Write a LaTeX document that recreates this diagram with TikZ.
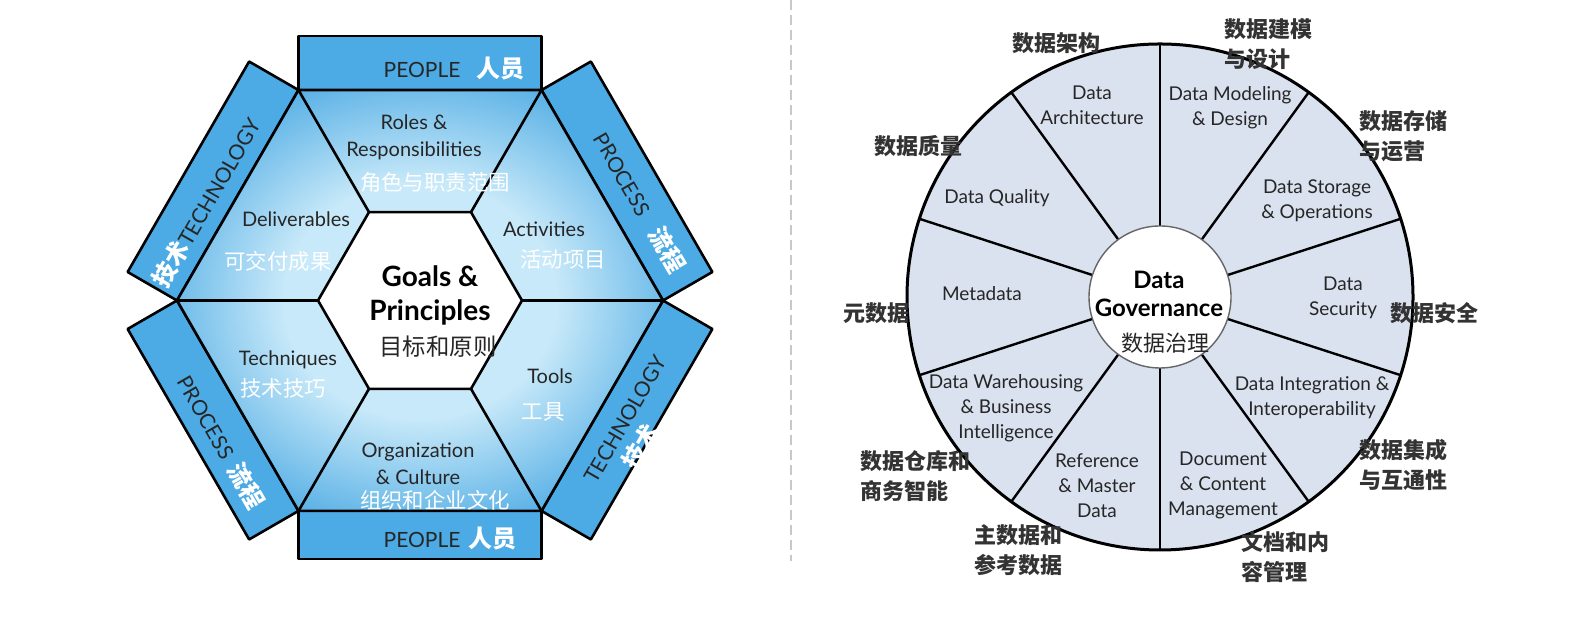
\documentclass[tikz,border=0pt]{standalone}
\usepackage{fontspec}
\setmainfont{Lato}
\newfontfamily\cjk{Noto Sans CJK SC}
\usetikzlibrary{calc}
\definecolor{c0}{RGB}{76,170,229}
\definecolor{c1}{RGB}{200,233,249}
\definecolor{c2}{RGB}{80,172,228}
\definecolor{c3}{RGB}{218,225,239}
\definecolor{c4}{RGB}{51,51,51}
\definecolor{c5}{RGB}{200,200,200}
\pgfdeclareradialshading{hexshade}{\pgfpoint{0bp}{0bp}}{%
  color(0bp)=(c1); color(14bp)=(c1); color(29bp)=(c2); color(100bp)=(c2)}
\tikzset{%
  hexline/.style={line width=1.3pt,line join=round},
  band/.style={hexline,fill=c0},
  seg/.style={font=\fontsize{10}{13.5}\selectfont,text=black!85,align=center,inner sep=0pt},
  segcn/.style={font=\cjk\fontsize{10.7}{12}\selectfont,text=white,inner sep=0pt},
  bandtxt/.style={font=\fontsize{10.5}{12}\selectfont,text=black!85,inner sep=0pt},
  wheeltxt/.style={font=\fontsize{9.5}{12.5}\selectfont,text=black!85,align=center,inner sep=0pt},
  wheelcn/.style={font=\cjk\bfseries\fontsize{11}{15}\selectfont,text=c4,align=left,inner sep=0pt},
  spoke/.style={line width=1.2pt}
}
\NewDocumentCommand\cnb{m}{{\cjk\bfseries\fontsize{12}{12}\selectfont\color{white}#1}}
\NewDocumentCommand\band{mm}{%
  \draw[band] (#1+30:243) -- (#1-30:243) -- ++(#1:#2) -- ++(#1+90:243) -- cycle;
}

\begin{document}
\begin{tikzpicture}[x=0.5pt,y=0.5pt]
  \useasboundingbox (0,0) rectangle (1584,619);
  \coordinate (hc) at (420,318.5);
  \coordinate (wc) at (1160,322);
  %
  \begin{scope}[shift={(hc)}]
    \foreach \a/\t in {90/54,30/57,-30/57,-90/48,-150/57,150/57} \band{\a}{\t};
    \shade[shading=hexshade] (0:243) -- (60:243) -- (120:243) -- (180:243) -- (240:243) -- (300:243) -- cycle;
    \foreach \a in {0,60,...,300} \draw[hexline] (\a:102) -- (\a:243);
    \filldraw[hexline,fill=white] (0:102) -- (60:102) -- (120:102) -- (180:102) -- (240:102) -- (300:102) -- cycle;
    \draw[hexline] (0:243) -- (60:243) -- (120:243) -- (180:243) -- (240:243) -- (300:243) -- cycle;
  \end{scope}
  %
  \node[seg] (roles) at (414,481.5) {Roles \&\\Responsibilities};
  \node[segcn] (rolescn) at (435,437) {角色与职责范围};
  \node[seg] (deliv) at (296,400) {Deliverables};
  \node[segcn] (delivcn) at (278,358) {可交付成果};
  \node[seg] (activ) at (544,390) {Activities};
  \node[segcn] (activcn) at (563,360) {活动项目};
  \node[seg] (techn) at (288,259) {Techniques};
  \node[segcn] (techncn) at (283,231) {技术技巧};
  \node[seg] (tools) at (550,243) {Tools};
  \node[segcn] (toolscn) at (543,207) {工具};
  \node[seg] (org) at (418,155) {Organization\\\& Culture};
  \node[segcn] (orgcn) at (435,119) {组织和企业文化};
  \node[seg,font=\bfseries\fontsize{14}{17}\selectfont,text=black] (goals) at (430,324) {Goals \&\\Principles};
  \node[segcn,font=\cjk\fontsize{11.7}{12}\selectfont,text=black!85] (goalscn) at (438,272) {目标和原则};
  %
  \node[bandtxt] (peopletop) at ($(hc)+(34,232)$) {PEOPLE\hspace{8pt}\cnb{人员}};
  \node[bandtxt] (peoplebot) at ($(hc)+(30,-238)$) {PEOPLE\hspace{4pt}\cnb{人员}};
  \node[bandtxt,rotate=-60] (procR) at ($(hc)+(220,98)$) {PROCESS\hspace{9pt}\cnb{流程}};
  \node[bandtxt,rotate=-60] (procL) at ($(hc)+(-198.5,-141.5)$) {PROCESS\hspace{5pt}\cnb{流程}};
  \node[bandtxt,rotate=60] (techL) at ($(hc)+(-214,98)$) {\cnb{技术}TECHNOLOGY};
  \node[bandtxt,rotate=60] (techR) at ($(hc)+(205,-119)$) {TECHNOLOGY};
  \node[bandtxt,rotate=60] (techRcn) at ($(hc)+(221,-146)$) {\cnb{技术}};
  %% separator
  \draw[c5,line width=1.1pt,dash pattern=on 5pt off 2.5pt] (791,619) -- (791,58);
  %% wheel
  \fill[c3] (wc) circle (253);
  \foreach \a in {90,54,...,-234} \draw[spoke] (wc) -- ++(\a:253);
  \draw[line width=1.5pt] (wc) circle (253);
  \filldraw[fill=white,draw=black!60,line width=0.7pt] (wc) circle (71);
  %
  \node[wheeltxt] (arch) at (1092,514) {Data\\Architecture};
  \node[wheeltxt] (model) at (1230,511.5) {Data Modeling\\\& Design};
  \node[wheeltxt] (stor) at (1317,418.5) {Data Storage\\\& Operations};
  \node[wheeltxt] (secu) at (1343,321.5) {Data\\Security};
  \node[wheeltxt] (integ) at (1312,221.5) {Data Integration \&\\Interoperability};
  \node[wheeltxt] (docu) at (1223,134) {Document\\\& Content\\Management};
  \node[wheeltxt] (refer) at (1097,133.5) {Reference\\\& Master\\Data};
  \node[wheeltxt] (wareh) at (1006,211) {Data Warehousing\\\& Business\\Intelligence};
  \node[wheeltxt] (meta) at (982,325) {Metadata};
  \node[wheeltxt] (qual) at (997,421) {Data Quality};
  \node[wheeltxt,font=\bfseries\fontsize{12}{14}\selectfont,text=black] (gov) at (1159,325) {Data\\Governance};
  \node[wheeltxt,font=\cjk\fontsize{11}{12}\selectfont] (govcn) at (1165,276) {数据治理};
  %
  \node[wheelcn] (archcn) at (1056,576) {数据架构};
  \node[wheelcn,anchor=west] (modelcn) at (1224,574.5) {数据建模\\与设计};
  \node[wheelcn,anchor=west] (storcn) at (1359,483) {数据存储\\与运营};
  \node[wheelcn] (qualcn) at (918,473) {数据质量};
  \node[wheelcn] (metacn) at (876,306) {元数据};
  \node[wheelcn] (secucn) at (1434,306) {数据安全};
  \node[wheelcn,anchor=west] (warehcn) at (860,143) {数据仓库和\\商务智能};
  \node[wheelcn,anchor=west] (refercn) at (974,69) {主数据和\\参考数据};
  \node[wheelcn,anchor=west] (docucn) at (1241,61.5) {文档和内\\容管理};
  \node[wheelcn,anchor=west] (integcn) at (1359,154) {数据集成\\与互通性};
\end{tikzpicture}
\end{document}
